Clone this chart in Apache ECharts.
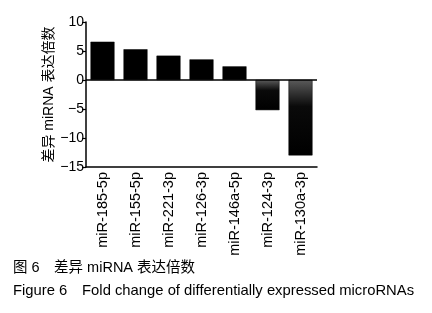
<!DOCTYPE html>
<html><head><meta charset="utf-8">
<script src="https://cdn.jsdelivr.net/npm/echarts@6/dist/echarts.min.js"></script>
<style>html,body{margin:0;padding:0;background:#fff}#c{width:432px;height:313px}</style>
</head><body><div id="c"></div>
<script>
var categories = ['miR-185-5p','miR-155-5p','miR-221-3p','miR-126-3p','miR-146a-5p','miR-124-3p','miR-130a-3p'];
var values = [6.6, 5.3, 4.2, 3.55, 2.35, -5.2, -13.0];
var yTicks = [-15, -10, -5, 0, 5, 10];
var yName = '差异 miRNA 表达倍数';
var caption1 = '图 6　差异 miRNA 表达倍数';
var caption2 = 'Figure 6　Fold change of differentially expressed microRNAs';

var font = '"Liberation Sans", Arial, "Noto Sans CJK SC", sans-serif';
var chart = echarts.init(document.getElementById('c'));
chart.setOption({
  animation: false,
  backgroundColor: '#fff',
  grid: {left: 86, right: 115, top: 22, bottom: 146},
  xAxis: {
    type: 'category', data: categories,
    axisLine: {onZero: false, lineStyle: {color: '#000', width: 1.5}},
    axisTick: {alignWithLabel: true, length: 4, lineStyle: {color: '#000', width: 1.2}},
    axisLabel: {rotate: 90, color: '#000', fontSize: 14.5, fontFamily: font, margin: 5}
  },
  yAxis: {
    type: 'value', min: yTicks[0], max: yTicks[yTicks.length-1], interval: 5,
    name: yName, nameLocation: 'middle', nameGap: 30, nameRotate: 90, nameMoveOverlap: false,
    nameTextStyle: {color: '#000', fontSize: 14, fontFamily: font},
    axisLine: {show: true, lineStyle: {color: '#000', width: 1.5}},
    axisTick: {show: true, length: 4, lineStyle: {color: '#000', width: 1.2}},
    axisLabel: {color: '#000', fontSize: 14, fontFamily: font, margin: 2,
      formatter: function(v){ return v < 0 ? '\u2212' + Math.abs(v) : String(v); }},
    splitLine: {show: false}
  },
  series: [{
    type: 'bar', barWidth: 24,
    data: values.map(function(v){
      return {value: v, itemStyle: v < 0 ? {color: new echarts.graphic.LinearGradient(0,0,0,1,[
        {offset: 0, color: '#5a5a5a'}, {offset: 0.35, color: '#0a0a0a'}, {offset: 1, color: '#000'}])} : {color: '#000'}};
    }),
    itemStyle: {borderColor: '#000', borderWidth: 0.5},
    markLine: {silent: true, symbol: 'none', label: {show: false},
      lineStyle: {color: '#000', width: 1.5, type: 'solid'}, data: [{yAxis: 0}]}
  }],
  graphic: [
    {type: 'text', left: 13, top: 261, style: {text: caption1, fontSize: 14.5, fontFamily: font, fill: '#000'}},
    {type: 'text', left: 13, top: 284, style: {text: caption2, fontSize: 14.8, fontFamily: font, fill: '#000'}}
  ]
});
</script></body></html>
